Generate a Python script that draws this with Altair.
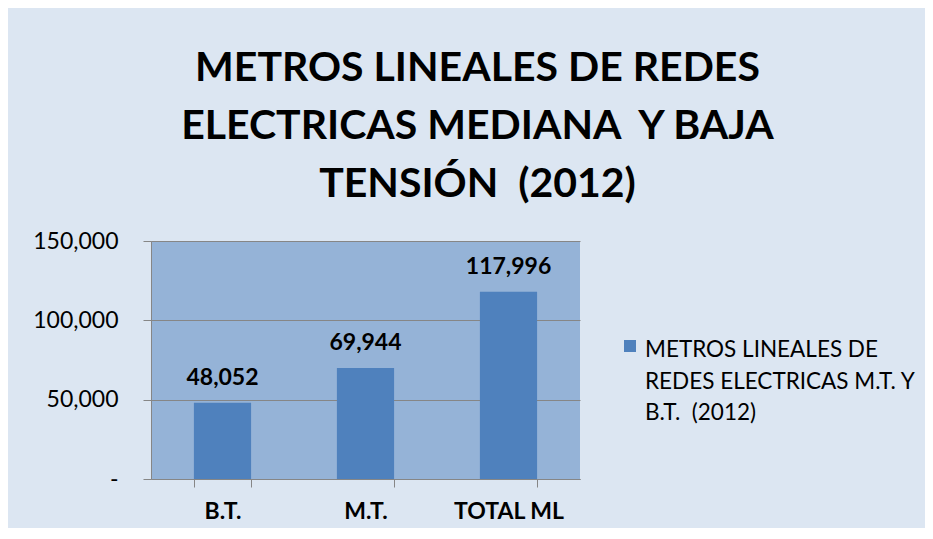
import altair as alt
import pandas as pd

# ---- data ----
categories = ["B.T.", "M.T.", "TOTAL ML"]
values = [48052, 69944, 117996]
series_name_lines = ["METROS LINEALES DE", "REDES ELECTRICAS M.T. Y", "B.T. \u00a0(2012)"]
title_lines = ["METROS LINEALES DE REDES", "ELECTRICAS MEDIANA \u00a0Y BAJA", "TENSIÓN \u00a0(2012)"]
y_ticks = [0, 50000, 100000, 150000]

df = pd.DataFrame({"cat": categories, "val": values})
legend_df = pd.DataFrame({"label": ["\n".join(series_name_lines)]})

FONT = "Lato"
BAR = "#4f81bd"
GRID = "#868686"

x_enc = alt.X(
    "cat:N",
    sort=categories,
    scale=alt.Scale(paddingInner=0.6, paddingOuter=0.3),
    axis=alt.Axis(
        title=None,
        labelAngle=0,
        tickBand="extent",
        tickSize=8,
        tickColor=GRID,
        domainColor=GRID,
        labelFont=FONT,
        labelFontSize=23,
        labelFontWeight="bold",
        labelColor="black",
        labelPadding=13,
        grid=False,
    ),
)
y_enc = alt.Y(
    "val:Q",
    scale=alt.Scale(domain=[0, 150000], nice=False),
    axis=alt.Axis(
        title=None,
        values=y_ticks,
        labelExpr="datum.value == 0 ? '-\u2002\u2002' : format(datum.value, ',')",
        tickSize=8,
        tickColor=GRID,
        domainColor=GRID,
        gridColor=GRID,
        grid=True,
        labelFont=FONT,
        labelFontSize=23,
        labelColor="black",
        labelPadding=25,
    ),
)

base = alt.Chart(df)
bars = base.mark_bar(color=BAR).encode(x=x_enc, y=y_enc)
labels = base.mark_text(
    dy=-18, baseline="alphabetic", fontSize=23, fontWeight="bold", font=FONT, color="black"
).encode(x=alt.X("cat:N", sort=categories), y="val:Q", text=alt.Text("val:Q", format=","))

leg_sym = alt.Chart(legend_df).mark_square(size=144, color=BAR, filled=True, opacity=1).encode(
    x=alt.value(479), y=alt.value(105)
)
leg_txt = alt.Chart(legend_df).mark_text(
    align="left", baseline="alphabetic", fontSize=22.5, font=FONT, lineHeight=31.5,
    lineBreak="\n", color="black"
).encode(x=alt.value(494), y=alt.value(116), text="label:N")

chart = (
    alt.layer(bars, labels, leg_sym, leg_txt)
    .properties(
        width=429,
        height=238,
        padding={"left": 143, "top": 233, "right": 345, "bottom": 49},
        autosize=alt.AutoSizeParams(type="none"),
        background="#dce6f2",
        title=alt.Title(
            text=title_lines,
            font=FONT,
            fontSize=41,
            fontWeight="bold",
            color="black",
            lineHeight=58,
            anchor="middle",
            dx=112,
            offset=24,
        ),
    )
    .configure_view(fill="#95b3d7", stroke=None)
)

chart.save("out.html", embed_options={"renderer": "svg", "actions": False})
